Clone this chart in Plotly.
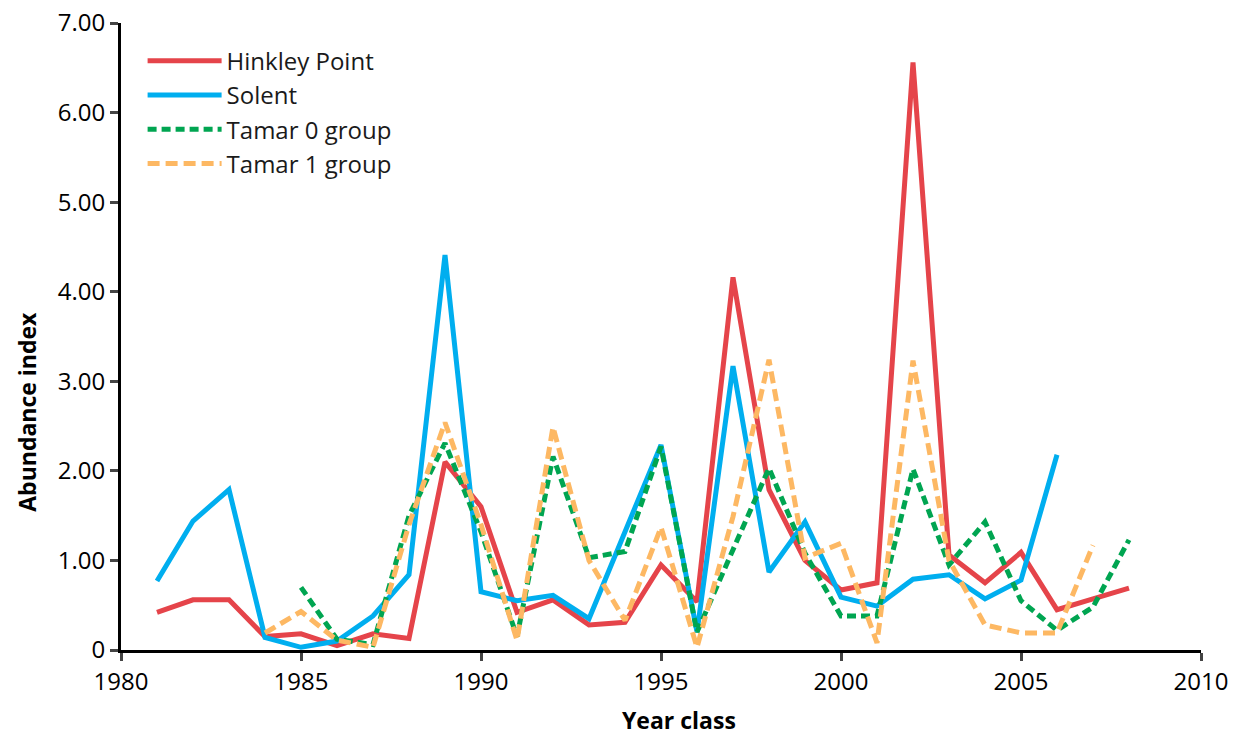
import plotly.graph_objects as go

years = list(range(1981, 2009))

hinkley = [0.42, 0.56, 0.56, 0.15, 0.18, 0.05, 0.18, 0.13, 2.10, 1.60, 0.42, 0.56, 0.28, 0.31,
           0.95, 0.54, 4.16, 1.79, 1.00, 0.67, 0.75, 6.56, 1.06, 0.75, 1.09, 0.45, 0.57, 0.69]

solent_years = list(range(1981, 2007))
solent = [0.77, 1.44, 1.79, 0.14, 0.03, 0.10, 0.38, 0.84, 4.41, 0.65, 0.55, 0.61, 0.35, 1.32,
          2.29, 0.20, 3.17, 0.87, 1.43, 0.59, 0.49, 0.79, 0.84, 0.57, 0.78, 2.18]

tamar0_years = list(range(1985, 2009))
tamar0 = [0.70, 0.12, 0.06, 1.50, 2.31, 1.32, 0.15, 2.16, 1.03, 1.10, 2.27, 0.20, 1.12, 2.03,
          1.08, 0.38, 0.38, 2.02, 0.95, 1.43, 0.55, 0.22, 0.48, 1.23]

tamar1_years = list(range(1984, 2008))
tamar1 = [0.19, 0.43, 0.11, 0.03, 1.40, 2.54, 1.40, 0.11, 2.49, 1.00, 0.33, 1.37, 0.03, 1.49,
          3.24, 1.03, 1.19, 0.08, 3.23, 1.00, 0.28, 0.19, 0.19, 1.17]

y_ticks = [0, 1, 2, 3, 4, 5, 6, 7]
y_tick_labels = ["0", "1.00", "2.00", "3.00", "4.00", "5.00", "6.00", "7.00"]
x_ticks = [1980, 1985, 1990, 1995, 2000, 2005, 2010]

FONT = "Open Sans"

fig = go.Figure()
fig.add_trace(go.Scatter(x=years, y=hinkley, mode="lines", name="Hinkley Point",
                         line=dict(color="#E5444A", width=5)))
fig.add_trace(go.Scatter(x=solent_years, y=solent, mode="lines", name="Solent",
                         line=dict(color="#00AEEF", width=5)))
fig.add_trace(go.Scatter(x=tamar0_years, y=tamar0, mode="lines", name="Tamar 0 group",
                         line=dict(color="#00A551", width=5, dash="9px,5px")))
fig.add_trace(go.Scatter(x=tamar1_years, y=tamar1, mode="lines", name="Tamar 1 group",
                         line=dict(color="#FDB863", width=5, dash="12px,6px")))

fig.update_layout(
    width=1235, height=737,
    margin=dict(l=121, r=34, t=23, b=87, autoexpand=False),
    paper_bgcolor="white", plot_bgcolor="white",
    font=dict(family=FONT, size=24, color="black"),
    showlegend=True,
    legend=dict(x=0.02, y=0.975, xanchor="left", yanchor="top",
                bgcolor="rgba(0,0,0,0)", font=dict(family=FONT, size=24, color="#1a1a1a"),
                tracegroupgap=0, itemwidth=74),
    xaxis=dict(range=[1980, 2010], tickvals=x_ticks, ticks="outside", ticklen=8, tickwidth=3,
               showline=True, linecolor="black", linewidth=3, showgrid=False, zeroline=False,
               automargin=False,
               tickfont=dict(family=FONT, size=24, color="black")),
    yaxis=dict(range=[0, 7], tickvals=y_ticks, ticktext=y_tick_labels, ticks="outside", ticklen=8,
               tickwidth=3, showline=True, linecolor="black", linewidth=3, showgrid=False,
               zeroline=False, automargin=False,
               tickfont=dict(family=FONT, size=24, color="black")),
    annotations=[
        dict(text="<b>Year class</b>", xref="paper", yref="paper", x=0.517, y=-0.111,
             xanchor="center", yanchor="middle", showarrow=False,
             font=dict(family=FONT, size=23, color="black")),
        dict(text="<b>Abundance index</b>", xref="paper", yref="paper", x=-0.087, y=0.38,
             xanchor="center", yanchor="middle", showarrow=False, textangle=-90,
             font=dict(family=FONT, size=23, color="black")),
    ],
)

fig.write_html("out.html", config={"displayModeBar": False},
               post_script="document.body.style.margin='0';document.body.style.overflow='hidden';")
